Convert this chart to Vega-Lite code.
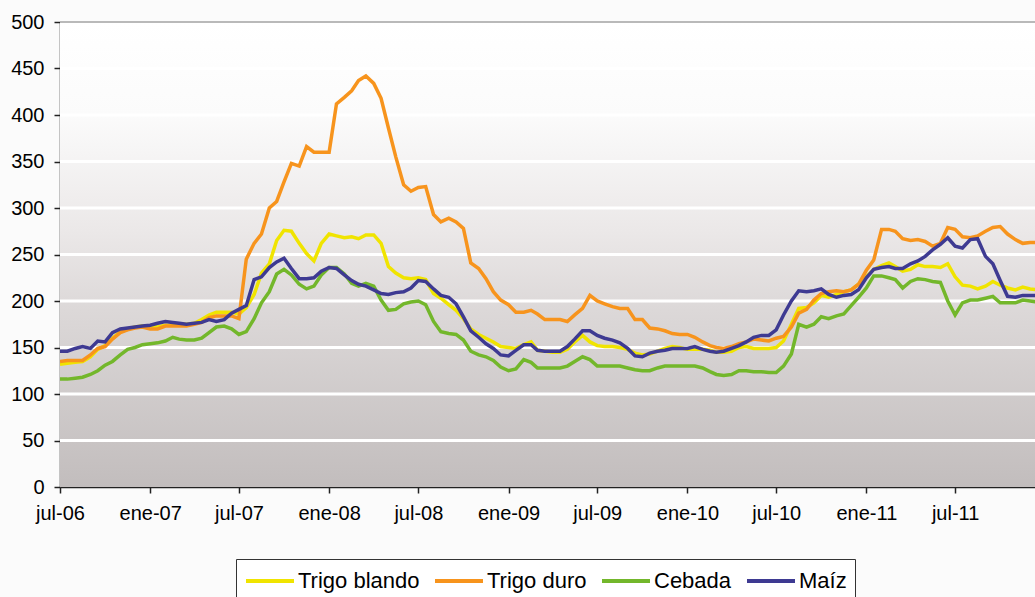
{
  "$schema": "https://vega.github.io/schema/vega-lite/v6.json",
  "autosize": {"type": "none"},
  "width": 975,
  "height": 465,
  "padding": {"left": 60, "top": 22, "right": 0, "bottom": 110},
  "background": "#fbfbfb",
  "config": {
    "view": {"stroke": null},
    "font": "Liberation Sans"
  },
  "datasets": {
    "precios": [
      {"d":"2006-07-01","Trigo blando":132,"Trigo duro":135,"Cebada":116,"Maíz":146},
      {"d":"2006-07-16","Trigo blando":133,"Trigo duro":136,"Cebada":116,"Maíz":146},
      {"d":"2006-08-01","Trigo blando":134,"Trigo duro":136,"Cebada":117,"Maíz":149},
      {"d":"2006-08-16","Trigo blando":135,"Trigo duro":136,"Cebada":118,"Maíz":151},
      {"d":"2006-09-01","Trigo blando":140,"Trigo duro":142,"Cebada":121,"Maíz":149},
      {"d":"2006-09-16","Trigo blando":148,"Trigo duro":149,"Cebada":125,"Maíz":157},
      {"d":"2006-10-01","Trigo blando":152,"Trigo duro":151,"Cebada":131,"Maíz":156},
      {"d":"2006-10-16","Trigo blando":160,"Trigo duro":159,"Cebada":135,"Maíz":166},
      {"d":"2006-11-01","Trigo blando":167,"Trigo duro":166,"Cebada":142,"Maíz":170},
      {"d":"2006-11-16","Trigo blando":170,"Trigo duro":169,"Cebada":148,"Maíz":171},
      {"d":"2006-12-01","Trigo blando":172,"Trigo duro":171,"Cebada":150,"Maíz":172},
      {"d":"2006-12-16","Trigo blando":173,"Trigo duro":172,"Cebada":153,"Maíz":173},
      {"d":"2007-01-01","Trigo blando":173,"Trigo duro":170,"Cebada":154,"Maíz":174},
      {"d":"2007-01-16","Trigo blando":172,"Trigo duro":170,"Cebada":155,"Maíz":176},
      {"d":"2007-02-01","Trigo blando":174,"Trigo duro":173,"Cebada":157,"Maíz":178},
      {"d":"2007-02-16","Trigo blando":174,"Trigo duro":173,"Cebada":161,"Maíz":177},
      {"d":"2007-03-01","Trigo blando":175,"Trigo duro":173,"Cebada":159,"Maíz":176},
      {"d":"2007-03-16","Trigo blando":175,"Trigo duro":173,"Cebada":158,"Maíz":175},
      {"d":"2007-04-01","Trigo blando":176,"Trigo duro":175,"Cebada":158,"Maíz":176},
      {"d":"2007-04-16","Trigo blando":180,"Trigo duro":177,"Cebada":160,"Maíz":177},
      {"d":"2007-05-01","Trigo blando":185,"Trigo duro":182,"Cebada":166,"Maíz":180},
      {"d":"2007-05-16","Trigo blando":188,"Trigo duro":184,"Cebada":172,"Maíz":178},
      {"d":"2007-06-01","Trigo blando":188,"Trigo duro":184,"Cebada":173,"Maíz":180},
      {"d":"2007-06-16","Trigo blando":188,"Trigo duro":184,"Cebada":170,"Maíz":187},
      {"d":"2007-07-01","Trigo blando":186,"Trigo duro":181,"Cebada":164,"Maíz":191},
      {"d":"2007-07-16","Trigo blando":193,"Trigo duro":245,"Cebada":167,"Maíz":195},
      {"d":"2007-08-01","Trigo blando":207,"Trigo duro":262,"Cebada":181,"Maíz":223},
      {"d":"2007-08-16","Trigo blando":230,"Trigo duro":272,"Cebada":198,"Maíz":226},
      {"d":"2007-09-01","Trigo blando":240,"Trigo duro":300,"Cebada":210,"Maíz":236},
      {"d":"2007-09-16","Trigo blando":265,"Trigo duro":307,"Cebada":229,"Maíz":242},
      {"d":"2007-10-01","Trigo blando":276,"Trigo duro":328,"Cebada":234,"Maíz":246},
      {"d":"2007-10-16","Trigo blando":275,"Trigo duro":348,"Cebada":228,"Maíz":235},
      {"d":"2007-11-01","Trigo blando":262,"Trigo duro":345,"Cebada":218,"Maíz":224},
      {"d":"2007-11-16","Trigo blando":251,"Trigo duro":366,"Cebada":213,"Maíz":224},
      {"d":"2007-12-01","Trigo blando":243,"Trigo duro":360,"Cebada":216,"Maíz":225},
      {"d":"2007-12-16","Trigo blando":262,"Trigo duro":360,"Cebada":228,"Maíz":232},
      {"d":"2008-01-01","Trigo blando":272,"Trigo duro":360,"Cebada":236,"Maíz":236},
      {"d":"2008-01-16","Trigo blando":270,"Trigo duro":412,"Cebada":236,"Maíz":235},
      {"d":"2008-02-01","Trigo blando":268,"Trigo duro":419,"Cebada":229,"Maíz":228},
      {"d":"2008-02-16","Trigo blando":269,"Trigo duro":426,"Cebada":219,"Maíz":222},
      {"d":"2008-03-01","Trigo blando":267,"Trigo duro":437,"Cebada":216,"Maíz":218},
      {"d":"2008-03-16","Trigo blando":271,"Trigo duro":442,"Cebada":219,"Maíz":216},
      {"d":"2008-04-01","Trigo blando":271,"Trigo duro":434,"Cebada":216,"Maíz":212},
      {"d":"2008-04-16","Trigo blando":262,"Trigo duro":418,"Cebada":201,"Maíz":208},
      {"d":"2008-05-01","Trigo blando":237,"Trigo duro":386,"Cebada":190,"Maíz":207},
      {"d":"2008-05-16","Trigo blando":230,"Trigo duro":355,"Cebada":191,"Maíz":209},
      {"d":"2008-06-01","Trigo blando":225,"Trigo duro":325,"Cebada":197,"Maíz":210},
      {"d":"2008-06-16","Trigo blando":224,"Trigo duro":318,"Cebada":199,"Maíz":214},
      {"d":"2008-07-01","Trigo blando":225,"Trigo duro":322,"Cebada":200,"Maíz":222},
      {"d":"2008-07-16","Trigo blando":223,"Trigo duro":323,"Cebada":196,"Maíz":221},
      {"d":"2008-08-01","Trigo blando":208,"Trigo duro":293,"Cebada":178,"Maíz":213},
      {"d":"2008-08-16","Trigo blando":203,"Trigo duro":285,"Cebada":167,"Maíz":206},
      {"d":"2008-09-01","Trigo blando":196,"Trigo duro":289,"Cebada":165,"Maíz":204},
      {"d":"2008-09-16","Trigo blando":190,"Trigo duro":285,"Cebada":164,"Maíz":197},
      {"d":"2008-10-01","Trigo blando":181,"Trigo duro":278,"Cebada":158,"Maíz":183},
      {"d":"2008-10-16","Trigo blando":170,"Trigo duro":241,"Cebada":146,"Maíz":168},
      {"d":"2008-11-01","Trigo blando":164,"Trigo duro":235,"Cebada":142,"Maíz":161},
      {"d":"2008-11-16","Trigo blando":160,"Trigo duro":224,"Cebada":140,"Maíz":154},
      {"d":"2008-12-01","Trigo blando":156,"Trigo duro":210,"Cebada":136,"Maíz":149},
      {"d":"2008-12-16","Trigo blando":151,"Trigo duro":201,"Cebada":129,"Maíz":142},
      {"d":"2009-01-01","Trigo blando":150,"Trigo duro":196,"Cebada":125,"Maíz":141},
      {"d":"2009-01-16","Trigo blando":149,"Trigo duro":188,"Cebada":127,"Maíz":147},
      {"d":"2009-02-01","Trigo blando":153,"Trigo duro":188,"Cebada":137,"Maíz":153},
      {"d":"2009-02-16","Trigo blando":156,"Trigo duro":190,"Cebada":134,"Maíz":153},
      {"d":"2009-03-01","Trigo blando":147,"Trigo duro":186,"Cebada":128,"Maíz":147},
      {"d":"2009-03-16","Trigo blando":146,"Trigo duro":180,"Cebada":128,"Maíz":146},
      {"d":"2009-04-01","Trigo blando":145,"Trigo duro":180,"Cebada":128,"Maíz":146},
      {"d":"2009-04-16","Trigo blando":145,"Trigo duro":180,"Cebada":128,"Maíz":146},
      {"d":"2009-05-01","Trigo blando":148,"Trigo duro":178,"Cebada":130,"Maíz":151},
      {"d":"2009-05-16","Trigo blando":156,"Trigo duro":185,"Cebada":135,"Maíz":159},
      {"d":"2009-06-01","Trigo blando":163,"Trigo duro":192,"Cebada":140,"Maíz":168},
      {"d":"2009-06-16","Trigo blando":156,"Trigo duro":206,"Cebada":137,"Maíz":168},
      {"d":"2009-07-01","Trigo blando":152,"Trigo duro":200,"Cebada":130,"Maíz":163},
      {"d":"2009-07-16","Trigo blando":151,"Trigo duro":197,"Cebada":130,"Maíz":160},
      {"d":"2009-08-01","Trigo blando":151,"Trigo duro":194,"Cebada":130,"Maíz":158},
      {"d":"2009-08-16","Trigo blando":150,"Trigo duro":192,"Cebada":130,"Maíz":155},
      {"d":"2009-09-01","Trigo blando":148,"Trigo duro":192,"Cebada":128,"Maíz":149},
      {"d":"2009-09-16","Trigo blando":144,"Trigo duro":180,"Cebada":126,"Maíz":141},
      {"d":"2009-10-01","Trigo blando":142,"Trigo duro":180,"Cebada":125,"Maíz":140},
      {"d":"2009-10-16","Trigo blando":143,"Trigo duro":171,"Cebada":125,"Maíz":144},
      {"d":"2009-11-01","Trigo blando":146,"Trigo duro":170,"Cebada":128,"Maíz":146},
      {"d":"2009-11-16","Trigo blando":149,"Trigo duro":168,"Cebada":130,"Maíz":147},
      {"d":"2009-12-01","Trigo blando":151,"Trigo duro":165,"Cebada":130,"Maíz":149},
      {"d":"2009-12-16","Trigo blando":150,"Trigo duro":164,"Cebada":130,"Maíz":149},
      {"d":"2010-01-01","Trigo blando":148,"Trigo duro":164,"Cebada":130,"Maíz":149},
      {"d":"2010-01-16","Trigo blando":148,"Trigo duro":161,"Cebada":130,"Maíz":151},
      {"d":"2010-02-01","Trigo blando":148,"Trigo duro":156,"Cebada":128,"Maíz":148},
      {"d":"2010-02-16","Trigo blando":147,"Trigo duro":152,"Cebada":124,"Maíz":146},
      {"d":"2010-03-01","Trigo blando":145,"Trigo duro":150,"Cebada":121,"Maíz":145},
      {"d":"2010-03-16","Trigo blando":145,"Trigo duro":149,"Cebada":120,"Maíz":146},
      {"d":"2010-04-01","Trigo blando":146,"Trigo duro":151,"Cebada":121,"Maíz":149},
      {"d":"2010-04-16","Trigo blando":150,"Trigo duro":154,"Cebada":125,"Maíz":152},
      {"d":"2010-05-01","Trigo blando":151,"Trigo duro":156,"Cebada":125,"Maíz":156},
      {"d":"2010-05-16","Trigo blando":149,"Trigo duro":159,"Cebada":124,"Maíz":161},
      {"d":"2010-06-01","Trigo blando":149,"Trigo duro":158,"Cebada":124,"Maíz":163},
      {"d":"2010-06-16","Trigo blando":149,"Trigo duro":157,"Cebada":123,"Maíz":163},
      {"d":"2010-07-01","Trigo blando":150,"Trigo duro":160,"Cebada":123,"Maíz":169},
      {"d":"2010-07-16","Trigo blando":157,"Trigo duro":162,"Cebada":130,"Maíz":185},
      {"d":"2010-08-01","Trigo blando":175,"Trigo duro":172,"Cebada":143,"Maíz":200},
      {"d":"2010-08-16","Trigo blando":192,"Trigo duro":187,"Cebada":175,"Maíz":211},
      {"d":"2010-09-01","Trigo blando":193,"Trigo duro":191,"Cebada":172,"Maíz":210},
      {"d":"2010-09-16","Trigo blando":198,"Trigo duro":201,"Cebada":175,"Maíz":211},
      {"d":"2010-10-01","Trigo blando":206,"Trigo duro":208,"Cebada":183,"Maíz":213},
      {"d":"2010-10-16","Trigo blando":204,"Trigo duro":210,"Cebada":181,"Maíz":207},
      {"d":"2010-11-01","Trigo blando":207,"Trigo duro":211,"Cebada":184,"Maíz":204},
      {"d":"2010-11-16","Trigo blando":210,"Trigo duro":210,"Cebada":186,"Maíz":206},
      {"d":"2010-12-01","Trigo blando":212,"Trigo duro":212,"Cebada":195,"Maíz":207},
      {"d":"2010-12-16","Trigo blando":218,"Trigo duro":218,"Cebada":204,"Maíz":212},
      {"d":"2011-01-01","Trigo blando":226,"Trigo duro":233,"Cebada":214,"Maíz":225},
      {"d":"2011-01-16","Trigo blando":234,"Trigo duro":244,"Cebada":227,"Maíz":234},
      {"d":"2011-02-01","Trigo blando":238,"Trigo duro":277,"Cebada":227,"Maíz":236},
      {"d":"2011-02-16","Trigo blando":241,"Trigo duro":277,"Cebada":225,"Maíz":237},
      {"d":"2011-03-01","Trigo blando":237,"Trigo duro":275,"Cebada":223,"Maíz":235},
      {"d":"2011-03-16","Trigo blando":232,"Trigo duro":267,"Cebada":214,"Maíz":235},
      {"d":"2011-04-01","Trigo blando":234,"Trigo duro":265,"Cebada":221,"Maíz":240},
      {"d":"2011-04-16","Trigo blando":239,"Trigo duro":266,"Cebada":224,"Maíz":243},
      {"d":"2011-05-01","Trigo blando":237,"Trigo duro":264,"Cebada":223,"Maíz":248},
      {"d":"2011-05-16","Trigo blando":237,"Trigo duro":259,"Cebada":221,"Maíz":255},
      {"d":"2011-06-01","Trigo blando":236,"Trigo duro":262,"Cebada":220,"Maíz":261},
      {"d":"2011-06-16","Trigo blando":240,"Trigo duro":279,"Cebada":200,"Maíz":268},
      {"d":"2011-07-01","Trigo blando":226,"Trigo duro":277,"Cebada":185,"Maíz":259},
      {"d":"2011-07-16","Trigo blando":217,"Trigo duro":269,"Cebada":198,"Maíz":257},
      {"d":"2011-08-01","Trigo blando":216,"Trigo duro":268,"Cebada":201,"Maíz":266},
      {"d":"2011-08-16","Trigo blando":213,"Trigo duro":270,"Cebada":201,"Maíz":267},
      {"d":"2011-09-01","Trigo blando":216,"Trigo duro":275,"Cebada":203,"Maíz":248},
      {"d":"2011-09-16","Trigo blando":221,"Trigo duro":279,"Cebada":205,"Maíz":240},
      {"d":"2011-10-01","Trigo blando":217,"Trigo duro":280,"Cebada":198,"Maíz":222},
      {"d":"2011-10-16","Trigo blando":214,"Trigo duro":272,"Cebada":198,"Maíz":205},
      {"d":"2011-11-01","Trigo blando":212,"Trigo duro":266,"Cebada":198,"Maíz":204},
      {"d":"2011-11-16","Trigo blando":215,"Trigo duro":262,"Cebada":201,"Maíz":206},
      {"d":"2011-12-01","Trigo blando":213,"Trigo duro":263,"Cebada":200,"Maíz":206},
      {"d":"2011-12-16","Trigo blando":212,"Trigo duro":263,"Cebada":199,"Maíz":206}
    ]
  },
  "layer": [
    {
      "data": {"values": [{}]},
      "mark": {
        "type": "rect",
        "fill": {
          "gradient": "linear",
          "x1": 0, "y1": 0, "x2": 0, "y2": 1,
          "stops": [
            {"offset": 0, "color": "#ffffff"},
            {"offset": 0.2, "color": "#fbfbfb"},
            {"offset": 0.45, "color": "#ebe8e8"},
            {"offset": 0.62, "color": "#dcd8d8"},
            {"offset": 1, "color": "#c2bdbd"}
          ]
        }
      },
      "encoding": {}
    },
    {
      "data": {"values": [{"g": 50}, {"g": 100}, {"g": 150}, {"g": 200}, {"g": 250}, {"g": 300}, {"g": 350}, {"g": 400}, {"g": 450}]},
      "mark": {"type": "rule", "color": "#ffffff", "strokeWidth": 3},
      "encoding": {"y": {"field": "g", "type": "quantitative"}}
    },
    {
      "data": {"values": [{"g": 500}]},
      "mark": {"type": "rule", "color": "#b9b9b9", "strokeWidth": 2},
      "encoding": {"y": {"field": "g", "type": "quantitative"}}
    },
    {
      "data": {"name": "precios"},
      "transform": [
        {"fold": ["Trigo blando", "Trigo duro", "Cebada", "Maíz"], "as": ["serie", "valor"]}
      ],
      "mark": {"type": "line", "strokeWidth": 3.5, "clip": true, "interpolate": "linear"},
      "encoding": {
        "x": {
          "field": "d",
          "type": "temporal",
          "scale": {"type": "utc", "domain": ["2006-07-01", "2011-12-11"]},
          "axis": {
            "title": null,
            "values": [
              {"year": 2006, "month": 7, "date": 1, "utc": true},
              {"year": 2007, "month": 1, "date": 1, "utc": true},
              {"year": 2007, "month": 7, "date": 1, "utc": true},
              {"year": 2008, "month": 1, "date": 1, "utc": true},
              {"year": 2008, "month": 7, "date": 1, "utc": true},
              {"year": 2009, "month": 1, "date": 1, "utc": true},
              {"year": 2009, "month": 7, "date": 1, "utc": true},
              {"year": 2010, "month": 1, "date": 1, "utc": true},
              {"year": 2010, "month": 7, "date": 1, "utc": true},
              {"year": 2011, "month": 1, "date": 1, "utc": true},
              {"year": 2011, "month": 7, "date": 1, "utc": true}
            ],
            "labelExpr": "(utcmonth(datum.value) == 0 ? 'ene-' : 'jul-') + utcFormat(datum.value, '%y')",
            "grid": false,
            "domainColor": "#222222",
            "domainWidth": 1.5,
            "tickColor": "#222222",
            "tickSize": 6,
            "tickWidth": 1.5,
            "labelFontSize": 20,
            "labelColor": "#000000",
            "labelPadding": 10,
            "labelFont": "Liberation Sans",
            "labelOverlap": false,
            "labelFlush": false
          }
        },
        "y": {
          "field": "valor",
          "type": "quantitative",
          "scale": {"domain": [0, 500], "nice": false},
          "axis": {
            "title": null,
            "values": [0, 50, 100, 150, 200, 250, 300, 350, 400, 450, 500],
            "grid": false,
            "domainColor": "#222222",
            "domainWidth": 1.5,
            "tickColor": "#222222",
            "tickSize": 6,
            "tickWidth": 1.5,
            "labelFontSize": 20,
            "labelColor": "#000000",
            "labelPadding": 10,
            "labelFont": "Liberation Sans",
            "labelFlush": false
          }
        },
        "color": {
          "field": "serie",
          "type": "nominal",
          "scale": {
            "domain": ["Trigo blando", "Trigo duro", "Cebada", "Maíz"],
            "range": ["#f0e400", "#f7941d", "#73b72b", "#3e3a92"]
          },
          "legend": {
            "title": null,
            "orient": "none",
            "legendX": 176,
            "legendY": 537,
            "direction": "horizontal",
            "symbolType": "M-2,0H2",
            "symbolSize": 576,
            "symbolOffset": 12,
            "symbolStrokeWidth": 4,
            "labelFontSize": 22,
            "labelFont": "Liberation Sans",
            "labelColor": "#000000",
            "labelOffset": 14,
            "columnPadding": 7,
            "padding": 8,
            "strokeColor": "#333333",
            "fillColor": "#ffffff"
          }
        }
      }
    }
  ]
}
